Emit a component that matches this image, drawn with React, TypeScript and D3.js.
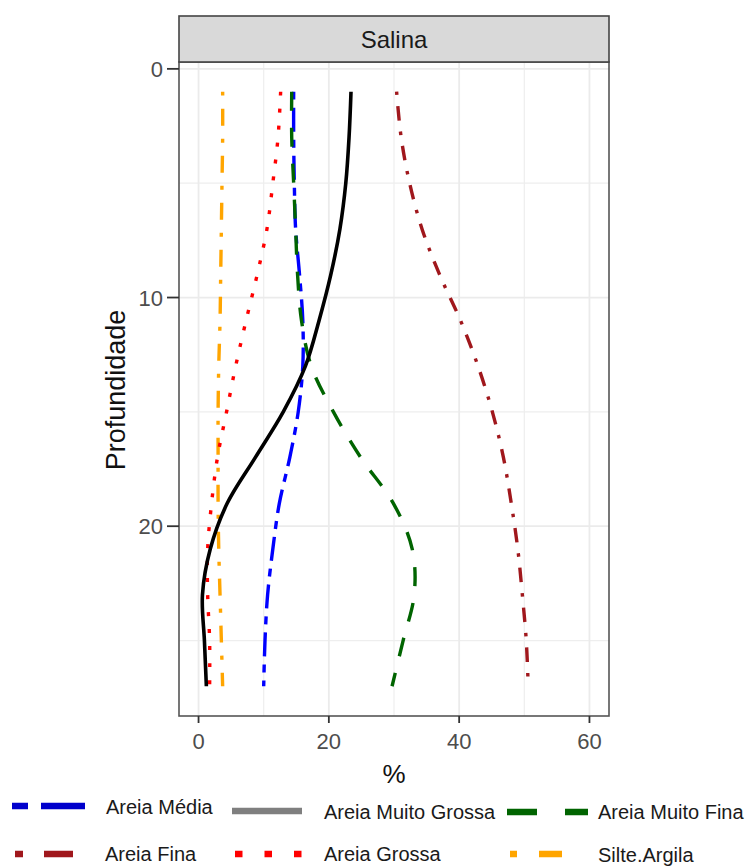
import React from "react";
import * as d3 from "d3";

// Depth profile (cm) at which every fraction was smoothed
const depth = [1, 3, 5, 7, 9, 11, 13, 15, 17, 19, 21, 23, 25, 27];

// Percent of each grain-size fraction at each depth
const areiaMedia = [14.6, 14.6, 14.7, 14.9, 15.5, 16.0, 16.0, 15.3, 14.0, 12.4, 11.4, 10.6, 10.2, 10.0];
const areiaMuitoGrossa = [23.4, 23.1, 22.6, 21.7, 20.3, 18.5, 16.4, 13.0, 8.7, 4.4, 1.8, 0.6, 0.9, 1.2];
const areiaMuitoFina = [14.3, 14.3, 14.6, 14.9, 15.2, 15.8, 17.3, 20.7, 24.9, 29.9, 32.8, 33.1, 31.4, 29.7];
const areiaFina = [30.4, 31.1, 32.4, 34.3, 37.0, 40.2, 42.9, 45.1, 46.8, 48.0, 49.0, 49.7, 50.3, 50.6];
const areiaGrossa = [12.6, 12.2, 11.4, 10.5, 9.0, 7.3, 5.7, 4.3, 2.9, 2.0, 1.4, 1.4, 1.7, 1.7];
const silteArgila = [3.7, 3.7, 3.6, 3.5, 3.4, 3.3, 3.1, 3.0, 3.0, 3.0, 3.1, 3.3, 3.5, 3.7];

const xTicks = [0, 20, 40, 60];
const xMinor = [10, 30, 50];
const yTicks = [0, 10, 20];
const yMinor = [5, 15, 25];

const panelTitle = "Salina";
const xTitle = "%";
const yTitle = "Profundidade";

type Series = {
  name: string;
  values: number[];
  color: string;
  dash: string;
  keyColor: string;
  keyDash: string;
};

const series: Series[] = [
  { name: "Silte.Argila", values: silteArgila, color: "#FFA500", dash: "4,13,17,13", keyColor: "#FFA500", keyDash: "7,22,29,22" },
  { name: "Areia Grossa", values: areiaGrossa, color: "#FF0000", dash: "4,13", keyColor: "#FF0000", keyDash: "7.5,22" },
  { name: "Areia Média", values: areiaMedia, color: "#0000FF", dash: "8,8,24,8", keyColor: "#0000CC", keyDash: "16,13,44,13" },
  { name: "Areia Muito Fina", values: areiaMuitoFina, color: "#006400", dash: "19,17", keyColor: "#006400", keyDash: "30,28" },
  { name: "Areia Fina", values: areiaFina, color: "#A0171C", dash: "3.5,11,14.5,11", keyColor: "#A0171C", keyDash: "8,21,29,21" },
  { name: "Areia Muito Grossa", values: areiaMuitoGrossa, color: "#000000", dash: "", keyColor: "#7F7F7F", keyDash: "" },
];

// Legend entries: key segment and label placement
const legendItems = [
  { name: "Areia Média", x0: 12, x1: 85, ky: 806, tx: 106, ty: 814 },
  { name: "Areia Muito Grossa", x0: 232, x1: 302, ky: 811, tx: 324, ty: 819 },
  { name: "Areia Muito Fina", x0: 507, x1: 588, ky: 812, tx: 598, ty: 819 },
  { name: "Areia Fina", x0: 15, x1: 75, ky: 854, tx: 105, ty: 861 },
  { name: "Areia Grossa", x0: 235, x1: 302, ky: 854, tx: 324, ty: 861 },
  { name: "Silte.Argila", x0: 510, x1: 562, ky: 854, tx: 598, ty: 862 },
];

const W = 747;
const H = 867;
const left = 179;
const right = 609;
const top = 62;
const bottom = 716;
const stripTop = 16;
const font = "'Liberation Sans', Arial, Helvetica, sans-serif";

export default function App() {
  const x = d3.scaleLinear().domain([-3, 63]).range([left, right]);
  const y = d3.scaleLinear().domain([-0.3, 28.3]).range([top, bottom]);

  const line = d3
    .line<number>()
    .x((v) => x(v))
    .y((_, i) => y(depth[i]))
    .curve(d3.curveCatmullRom.alpha(0.5));

  return (
    <svg
      width={W}
      height={H}
      viewBox={`0 0 ${W} ${H}`}
      style={{ position: "absolute", left: 0, top: 0, background: "#fff" }}
      fontFamily={font}
    >
      <rect x={0} y={0} width={W} height={H} fill="#fff" />

      {/* grid */}
      <g>
        {xMinor.map((t) => (
          <line key={`xm${t}`} x1={x(t)} x2={x(t)} y1={top} y2={bottom} stroke="#EEEEEE" strokeWidth={1.2} />
        ))}
        {yMinor.map((t) => (
          <line key={`ym${t}`} x1={left} x2={right} y1={y(t)} y2={y(t)} stroke="#EEEEEE" strokeWidth={1.2} />
        ))}
        {xTicks.map((t) => (
          <line key={`xg${t}`} x1={x(t)} x2={x(t)} y1={top} y2={bottom} stroke="#EBEBEB" strokeWidth={1.8} />
        ))}
        {yTicks.map((t) => (
          <line key={`yg${t}`} x1={left} x2={right} y1={y(t)} y2={y(t)} stroke="#EBEBEB" strokeWidth={1.8} />
        ))}
      </g>

      {/* profiles */}
      <g fill="none">
        {series.map((s) => (
          <path
            key={s.name}
            d={line(s.values) ?? ""}
            stroke={s.color}
            strokeWidth={s.dash ? 3.4 : 3.6}
            strokeDasharray={s.dash || undefined}
            strokeLinecap="butt"
          />
        ))}
      </g>

      {/* panel border */}
      <rect x={left} y={top} width={right - left} height={bottom - top} fill="none" stroke="#555" strokeWidth={1.6} />

      {/* facet strip */}
      <rect x={left} y={stripTop} width={right - left} height={top - stripTop} fill="#D9D9D9" stroke="#444" strokeWidth={1.6} />
      <text x={(left + right) / 2} y={48} textAnchor="middle" fontSize={24} fill="#1A1A1A">
        {panelTitle}
      </text>

      {/* y axis */}
      <g>
        {yTicks.map((t) => (
          <g key={`yt${t}`}>
            <line x1={left - 12} x2={left} y1={y(t)} y2={y(t)} stroke="#333" strokeWidth={1.8} />
            <text x={left - 16} y={y(t) + 8} textAnchor="end" fontSize={22} fill="#4D4D4D">
              {t}
            </text>
          </g>
        ))}
        <text
          transform={`translate(${125},${390}) rotate(-90)`}
          textAnchor="middle"
          fontSize={27}
          fill="#111"
        >
          {yTitle}
        </text>
      </g>

      {/* x axis */}
      <g>
        {xTicks.map((t) => (
          <g key={`xt${t}`}>
            <line x1={x(t)} x2={x(t)} y1={bottom} y2={bottom + 7} stroke="#333" strokeWidth={1.8} />
            <text x={x(t)} y={749} textAnchor="middle" fontSize={22} fill="#4D4D4D">
              {t}
            </text>
          </g>
        ))}
        <text x={(left + right) / 2} y={783} textAnchor="middle" fontSize={26} fill="#111">
          {xTitle}
        </text>
      </g>

      {/* legend */}
      <g>
        {legendItems.map((it) => {
          const s = series.find((d) => d.name === it.name)!;
          return (
            <g key={it.name}>
              <line
                x1={it.x0}
                x2={it.x1}
                y1={it.ky}
                y2={it.ky}
                stroke={s.keyColor}
                strokeWidth={6.5}
                strokeDasharray={s.keyDash || undefined}
                strokeLinecap="butt"
              />
              <text x={it.tx} y={it.ty} fontSize={20} fill="#1A1A1A">
                {it.name}
              </text>
            </g>
          );
        })}
      </g>
    </svg>
  );
}
